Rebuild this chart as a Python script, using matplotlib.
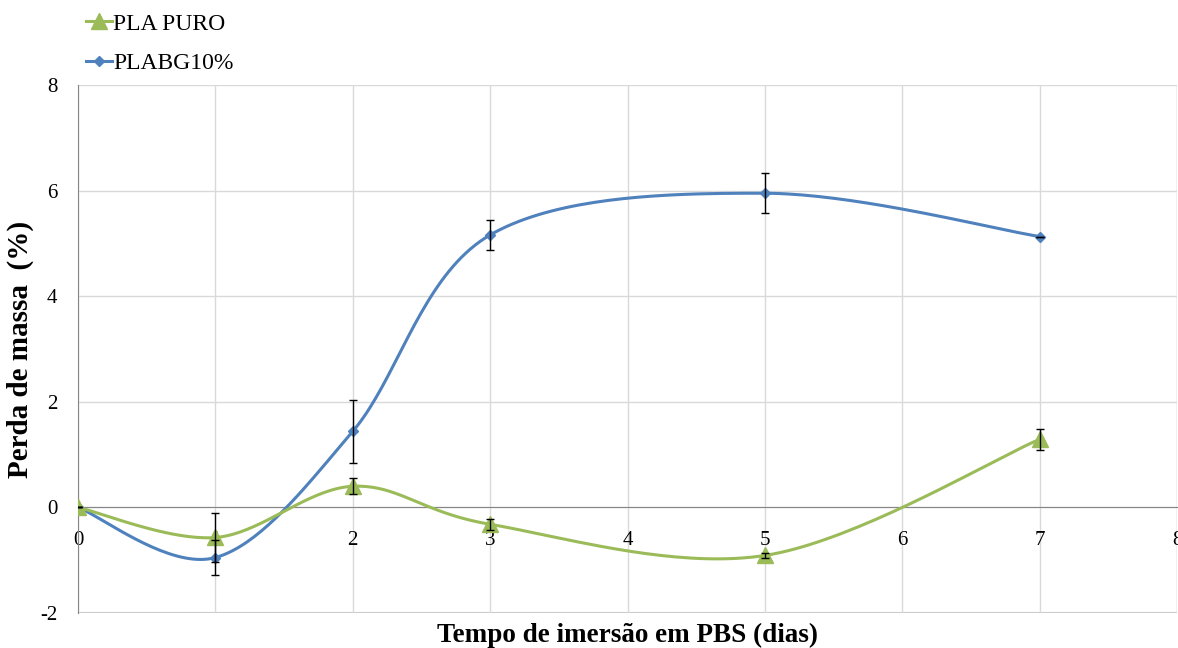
import numpy as np
import matplotlib
matplotlib.use("Agg")
import matplotlib.pyplot as plt
from matplotlib.lines import Line2D

plt.rcParams["axes.unicode_minus"] = False

days = [0, 1, 2, 3, 5, 7]
pla_puro = [0.0, -0.57, 0.40, -0.32, -0.91, 1.29]
pla_puro_err = [0.0, 0.46, 0.15, 0.10, 0.05, 0.20]
plabg10 = [0.0, -0.95, 1.44, 5.16, 5.95, 5.13]
plabg10_err = [0.0, 0.33, 0.59, 0.28, 0.38, 0.0]

x_ticks = [0, 1, 2, 3, 4, 5, 6, 7, 8]
y_ticks = [-2, 0, 2, 4, 6, 8]

GREEN = "#9BBB59"
BLUE = "#4F81BD"
SERIF = ["Liberation Serif", "DejaVu Serif"]


def smooth(xs, ys, n=40):
    """Excel-like smoothed line: cubic Bezier with Catmull-Rom control points."""
    xs = np.asarray(xs, float)
    ys = np.asarray(ys, float)
    pts = np.column_stack([xs, ys])
    out = []
    for i in range(len(pts) - 1):
        p0 = pts[i - 1] if i > 0 else pts[i]
        p1 = pts[i]
        p2 = pts[i + 1]
        p3 = pts[i + 2] if i + 2 < len(pts) else pts[i + 1]
        c1 = p1 + (p2 - p0) / 6.0
        c2 = p2 - (p3 - p1) / 6.0
        t = np.linspace(0, 1, n)[:, None]
        seg = ((1 - t) ** 3) * p1 + 3 * ((1 - t) ** 2) * t * c1 + 3 * (1 - t) * t ** 2 * c2 + t ** 3 * p2
        out.append(seg if i == 0 else seg[1:])
    s = np.vstack(out)
    return s[:, 0], s[:, 1]


fig = plt.figure(figsize=(11.78, 6.48), dpi=100)
ax = fig.add_axes([78 / 1178, 1 - 613 / 648, 1099 / 1178, (613 - 85) / 648])

ax.set_xlim(0, 8)
ax.set_ylim(-2, 8)
ax.set_xticks(x_ticks)
ax.set_yticks(y_ticks)

ax.grid(True, color="#D9D9D9", linewidth=1.0)
ax.set_axisbelow(True)

for side in ["top", "right"]:
    ax.spines[side].set_visible(False)
ax.spines["left"].set_color("#868686")
ax.spines["bottom"].set_position(("data", 0))
ax.spines["bottom"].set_color("#868686")
ax.axhline(-2, color="#C8C8C8", linewidth=1.5, zorder=0)
ax.axvline(8, color="#D9D9D9", linewidth=1.0, zorder=0)

ax.tick_params(axis="both", length=0, labelsize=15)
ax.tick_params(axis="x", pad=17)
ax.tick_params(axis="y", pad=15)
for lbl in ax.get_xticklabels() + ax.get_yticklabels():
    lbl.set_fontfamily(SERIF)

# curves
sx, sy = smooth(days, plabg10)
ax.plot(sx, sy, color=BLUE, linewidth=2.2, zorder=3)
ax.plot(days, plabg10, linestyle="none", marker="D", markersize=5.5, color=BLUE, zorder=4)
sx, sy = smooth(days, pla_puro)
ax.plot(sx, sy, color=GREEN, linewidth=2.2, zorder=3)
ax.plot(days, pla_puro, linestyle="none", marker="^", markersize=11, color=GREEN, zorder=4)

ax.errorbar(days, plabg10, yerr=plabg10_err, fmt="none", ecolor="black",
            elinewidth=1, capsize=3, capthick=1, zorder=5)
ax.errorbar(days, pla_puro, yerr=pla_puro_err, fmt="none", ecolor="black",
            elinewidth=1, capsize=3, capthick=1, zorder=5)

ax.set_ylabel("Perda de massa  (%)", fontsize=21, fontweight="bold", family=SERIF)
ax.yaxis.set_label_coords(-44 / 1099, 0.5)
ax.set_xlabel("Tempo de imersão em PBS (dias)", fontsize=19.5, fontweight="bold", family=SERIF)
ax.xaxis.set_label_coords(0.5, -0.019)

handles = [
    Line2D([0], [0], color=GREEN, marker="^", markersize=11, linewidth=2.2),
    Line2D([0], [0], color=BLUE, marker="D", markersize=5.5, linewidth=2.2),
]
fig.legend(handles, ["PLA PURO", "PLABG10%"], loc="upper left",
           bbox_to_anchor=(86 / 1178, 1 - 13 / 648), frameon=False,
           borderpad=0, borderaxespad=0,
           prop={"family": SERIF, "size": 17}, handlelength=1.1,
           handletextpad=0.05, labelspacing=0.75)

fig.savefig("out.png", dpi=100)
